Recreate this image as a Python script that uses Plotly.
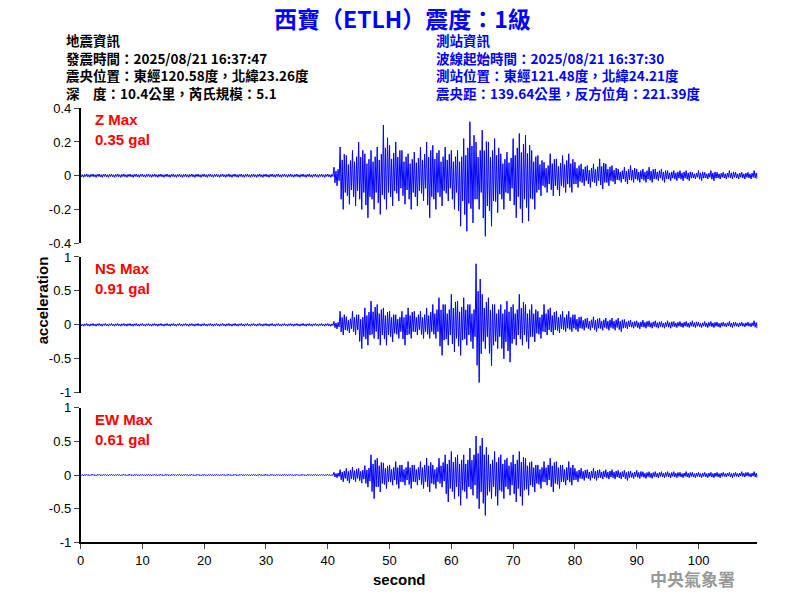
import plotly.graph_objects as go

# per-second envelope (max, min) from t=0 to t=109 (gal)
pre_noise = [0.01]*41
z_max = pre_noise + [0.05,0.17,0.12,0.15,0.2,0.13,0.15,0.17,0.3,0.18,0.2,0.15,0.13,0.14,0.17,0.2,0.18,0.15,0.17,0.15,
         0.15,0.22,0.32,0.2,0.27,0.2,0.22,0.13,0.14,0.22,0.25,0.24,0.15,0.12,0.08,0.13,0.1,0.12,0.13,0.08,
         0.07,0.06,0.07,0.1,0.07,0.06,0.04,0.05,0.06,0.04,0.04,0.05,0.04,0.04,0.03,0.03,0.03,0.03,0.02,0.03,
         0.02,0.03,0.02,0.02,0.03,0.02,0.02,0.02,0.03]
z_min = [-0.01]*41 + [-0.06,-0.2,-0.17,-0.18,-0.2,-0.25,-0.2,-0.23,-0.2,-0.18,-0.15,-0.17,-0.2,-0.18,-0.15,-0.25,-0.2,-0.18,-0.15,-0.2,
         -0.3,-0.33,-0.28,-0.2,-0.36,-0.3,-0.22,-0.2,-0.15,-0.25,-0.28,-0.27,-0.2,-0.12,-0.1,-0.12,-0.12,-0.1,-0.1,-0.07,
         -0.06,-0.07,-0.06,-0.08,-0.06,-0.05,-0.04,-0.05,-0.04,-0.04,-0.04,-0.04,-0.03,-0.04,-0.03,-0.03,-0.03,-0.03,-0.02,-0.03,
         -0.02,-0.03,-0.02,-0.02,-0.02,-0.02,-0.02,-0.02,-0.02]
ns_max = [0.02]*41 + [0.05,0.2,0.12,0.2,0.15,0.25,0.35,0.3,0.25,0.2,0.15,0.2,0.25,0.2,0.2,0.25,0.3,0.4,0.3,0.45,
          0.35,0.4,0.3,0.9,0.45,0.4,0.3,0.3,0.35,0.3,0.45,0.3,0.3,0.2,0.3,0.25,0.2,0.2,0.2,0.15,
          0.12,0.1,0.12,0.1,0.1,0.1,0.1,0.08,0.07,0.06,0.07,0.06,0.06,0.05,0.06,0.05,0.05,0.05,0.06,0.04,
          0.05,0.05,0.04,0.04,0.05,0.04,0.04,0.04,0.06]
ns_min = [-0.02]*41 + [-0.06,-0.15,-0.12,-0.15,-0.35,-0.3,-0.2,-0.3,-0.3,-0.25,-0.2,-0.3,-0.2,-0.15,-0.2,-0.2,-0.2,-0.45,-0.3,-0.4,
          -0.45,-0.3,-0.35,-0.85,-0.35,-0.6,-0.35,-0.5,-0.55,-0.3,-0.3,-0.35,-0.25,-0.2,-0.15,-0.15,-0.12,-0.1,-0.1,-0.1,
          -0.08,-0.08,-0.1,-0.08,-0.08,-0.08,-0.1,-0.06,-0.05,-0.06,-0.05,-0.05,-0.05,-0.05,-0.05,-0.04,-0.04,-0.04,-0.04,-0.04,
          -0.04,-0.04,-0.04,-0.03,-0.04,-0.03,-0.03,-0.03,-0.05]
ew_max = [0.01]*41 + [0.04,0.08,0.1,0.12,0.1,0.14,0.3,0.25,0.18,0.15,0.2,0.15,0.2,0.15,0.2,0.25,0.15,0.25,0.3,0.35,
          0.3,0.3,0.4,0.58,0.55,0.3,0.35,0.3,0.25,0.3,0.35,0.25,0.2,0.15,0.2,0.25,0.2,0.15,0.2,0.1,
          0.1,0.08,0.1,0.08,0.08,0.08,0.07,0.07,0.06,0.07,0.05,0.05,0.05,0.05,0.05,0.05,0.04,0.05,0.04,0.04,
          0.04,0.04,0.04,0.04,0.04,0.04,0.05,0.04,0.05]
ew_min = [-0.01]*41 + [-0.04,-0.1,-0.12,-0.1,-0.12,-0.18,-0.35,-0.25,-0.2,-0.15,-0.2,-0.15,-0.2,-0.15,-0.2,-0.25,-0.2,-0.18,-0.4,-0.35,
          -0.45,-0.35,-0.3,-0.5,-0.6,-0.35,-0.45,-0.35,-0.3,-0.4,-0.45,-0.3,-0.25,-0.2,-0.15,-0.25,-0.2,-0.15,-0.15,-0.1,
          -0.08,-0.08,-0.08,-0.06,-0.06,-0.06,-0.06,-0.08,-0.05,-0.05,-0.05,-0.05,-0.04,-0.04,-0.04,-0.04,-0.04,-0.04,-0.04,-0.04,
          -0.04,-0.04,-0.04,-0.03,-0.04,-0.03,-0.03,-0.03,-0.04]

channels = ["Z", "NS", "EW"]
max_gal = ["0.35", "0.91", "0.61"]
ranges = [[-0.4, 0.4], [-1, 1], [-1, 1]]
tickvals = [[-0.4, -0.2, 0, 0.2, 0.4], [-1, -0.5, 0, 0.5, 1], [-1, -0.5, 0, 0.5, 1]]
ticktext = [["-0.4", "-0.2", "0", "0.2", "0.4"], ["-1", "-0.5", "0", "0.5", "1"], ["-1", "-0.5", "0", "0.5", "1"]]
series = [(z_max, z_min), (ns_max, ns_min), (ew_max, ew_min)]

def py(p):
    return 1 - ((p - 6.5) / 0.977) / 600
def px(p):
    return (p - 3) / 800
pix_dom = [(108, 243), (257, 393), (408, 543)]
domains = [[py(b), py(t)] for t, b in pix_dom]

up_w = [1.0, 0.55, 0.75]
dn_w = [0.7, 1.0, 0.5]

fig = go.Figure()
for i, (mx, mn) in enumerate(series):
    xs, ys = [], []
    for t in range(len(mx)):
        for k in range(3):
            xs += [t + k/3, t + k/3 + 1/6]
            ys += [mx[t]*up_w[k], mn[t]*dn_w[k]]
    ax = "" if i == 0 else str(i + 1)
    fig.add_trace(go.Scatter(x=xs, y=ys, mode="lines", line=dict(color="#0000ff", width=1),
                             xaxis="x" + ax, yaxis="y" + ax, showlegend=False, hoverinfo="skip"))
    fig.layout["yaxis" + ax] = dict(domain=domains[i], range=ranges[i], tickvals=tickvals[i], ticktext=ticktext[i],
                                    showline=True, linecolor="black", linewidth=1.5, ticks="outside", ticklen=5,
                                    showgrid=False, zeroline=False, anchor="x" + ax,
                                    tickfont=dict(size=13, color="black", family="Arial"))
    fig.layout["xaxis" + ax] = dict(domain=[px(80), px(760)], range=[0, 109.5], anchor="y" + ax, showgrid=False,
                                    zeroline=False, showline=(i == 2), linecolor="black", linewidth=1.5,
                                    ticks="outside" if i == 2 else "", ticklen=5, dtick=10,
                                    showticklabels=(i == 2), tickfont=dict(size=13, color="black", family="Arial"))
    fig.add_annotation(xref="paper", yref="paper", x=px(92), y=py(pix_dom[i][0] + 1), xanchor="left", yanchor="top",
                       text=f"<b>{channels[i]} Max<br>{max_gal[i]} gal</b>", showarrow=False, align="left",
                       font=dict(size=15, color="red", family="Arial"))

cjk = "Noto Sans CJK TC"
fig.add_annotation(xref="paper", yref="paper", x=0.5, y=py(18), text="<b>西寶（ETLH）震度：1級</b>",
                   showarrow=False, font=dict(size=23, color="#0000ff", family=cjk), yanchor="middle")
left = ["地震資訊", "發震時間：2025/08/21 16:37:47", "震央位置：東經120.58度，北緯23.26度", "深　度：10.4公里，芮氏規模：5.1"]
right = ["測站資訊", "波線起始時間：2025/08/21 16:37:30", "測站位置：東經121.48度，北緯24.21度", "震央距：139.64公里，反方位角：221.39度"]
fig.add_annotation(xref="paper", yref="paper", x=px(63), y=py(66), xanchor="left", yanchor="middle",
                   text="<b>" + "<br>".join(left) + "</b>", align="left",
                   showarrow=False, font=dict(size=13.5, color="black", family=cjk))
fig.add_annotation(xref="paper", yref="paper", x=px(435), y=py(66), xanchor="left", yanchor="middle",
                   text="<b>" + "<br>".join(right) + "</b>", align="left",
                   showarrow=False, font=dict(size=13.5, color="#0000ff", family=cjk))
fig.add_annotation(xref="paper", yref="paper", x=px(32), y=py(300), text="<b>acceleration</b>", textangle=-90,
                   showarrow=False, font=dict(size=15, color="black", family="Arial"))
fig.add_annotation(xref="paper", yref="paper", x=px(400), y=py(591), text="<b>second</b>",
                   showarrow=False, font=dict(size=15, color="black", family="Arial"))
fig.add_annotation(xref="paper", yref="paper", x=px(740), y=py(594), text="<b>中央氣象署</b>",
                   showarrow=False, font=dict(size=17, color="#999999", family=cjk))

fig.update_layout(width=800, height=600, margin=dict(l=0, r=0, t=0, b=0), plot_bgcolor="white", paper_bgcolor="white")
fig.write_html("out.html", config={"displayModeBar": False},
               post_script="document.body.style.margin='0';document.body.style.padding='0';")
